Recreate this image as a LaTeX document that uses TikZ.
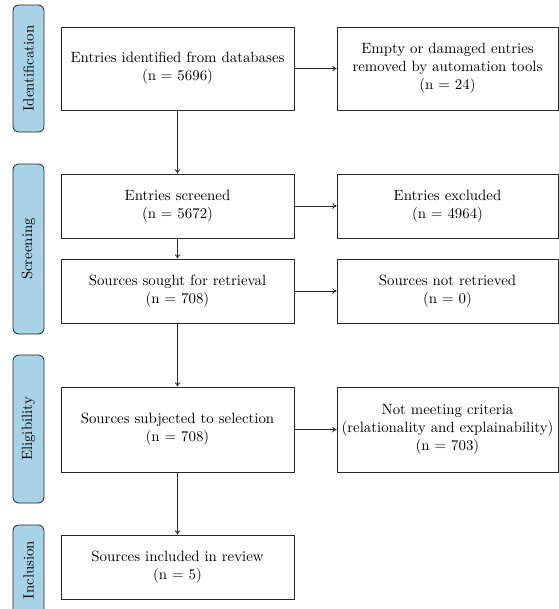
\documentclass[tikz,border=0pt]{standalone}
\usetikzlibrary{arrows.meta}
\definecolor{stagefill}{RGB}{168,211,230}
\definecolor{linegray}{RGB}{40,40,40}
\begin{document}
\begin{tikzpicture}[x=0.7pt,y=-0.7pt,
  every node/.style={font=\fontsize{10.4pt}{12.6pt}\selectfont},
  box/.style={draw=linegray,line width=0.6pt,rectangle,align=center,inner sep=2pt},
  leftbox/.style={box,minimum width=233*0.7pt},
  rightbox/.style={box,minimum width=221*0.7pt},
  stage/.style={draw=linegray,line width=0.6pt,fill=stagefill,rounded corners=4pt,rotate=90,minimum height=31*0.7pt,inner sep=0pt},
  conn/.style={line width=0.6pt,draw=linegray,-{To[length=3pt,width=4pt]}}]
\useasboundingbox (0,0) rectangle (559,609);
% stages
\node[stage,minimum width=127*0.7pt] (s1) at (28.5,68.5) {Identification};
\node[stage,minimum width=170*0.7pt] (s2) at (28.5,249) {Screening};
\node[stage,minimum width=148*0.7pt] (s3) at (28.5,429) {Eligibility};
\node[stage,minimum width=90*0.7pt] (s4) at (28.5,570) {Inclusion};
% left boxes
\node[leftbox,minimum height=83*0.7pt] (b1) at (177.5,68.5) {Entries identified from databases\\(n = 5696)};
\node[leftbox,minimum height=64*0.7pt] (b2) at (177.5,206) {Entries screened\\(n = 5672)};
\node[leftbox,minimum height=64*0.7pt] (b3) at (177.5,291) {Sources sought for retrieval\\(n = 708)};
\node[leftbox,minimum height=85*0.7pt] (b4) at (177.5,429.5) {Sources subjected to selection\\(n = 708)};
\node[leftbox,minimum height=64*0.7pt] (b5) at (177.5,567) {Sources included in review\\(n = 5)};
% right boxes
\node[rightbox,minimum height=83*0.7pt] (r1) at (447.5,68.5) {Empty or damaged entries\\removed by automation tools\\(n = 24)};
\node[rightbox,minimum height=64*0.7pt] (r2) at (447.5,206) {Entries excluded\\(n = 4964)};
\node[rightbox,minimum height=64*0.7pt] (r3) at (447.5,291) {Sources not retrieved\\(n = 0)};
\node[rightbox,minimum height=85*0.7pt] (r4) at (447.5,429.5) {Not meeting criteria\\(relationality and explainability)\\(n = 703)};
% connectors
\draw[conn] (b1) -- (b2);
\draw[conn] (b2) -- (b3);
\draw[conn] (b3) -- (b4);
\draw[conn] (b4) -- (b5);
\draw[conn] (b1) -- (r1);
\draw[conn] (b2) -- (r2);
\draw[conn] (b3) -- (r3);
\draw[conn] (b4) -- (r4);
\end{tikzpicture}
\end{document}
